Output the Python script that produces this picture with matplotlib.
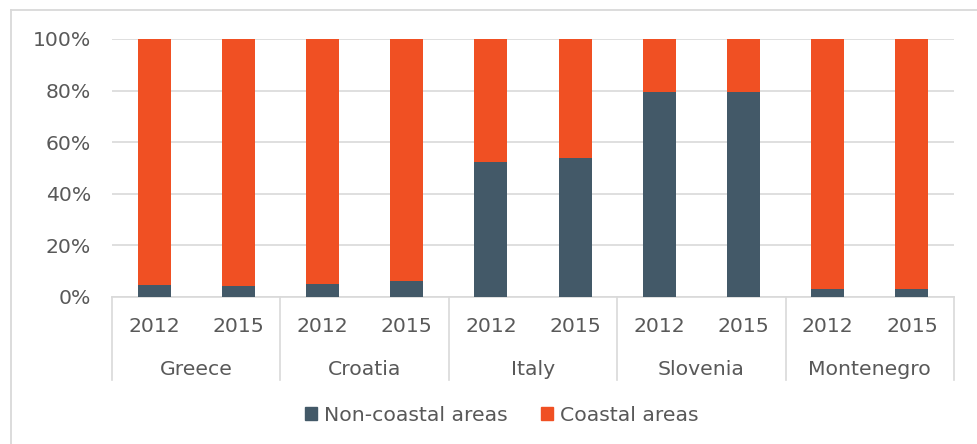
import matplotlib.pyplot as plt
from matplotlib.patches import Patch
from matplotlib.lines import Line2D
from matplotlib.ticker import PercentFormatter

countries = ["Greece", "Croatia", "Italy", "Slovenia", "Montenegro"]
years = ["2012", "2015"]
non_coastal = [4.5, 4.0, 4.8, 6.0, 52.3, 53.8, 79.3, 79.3, 3.1, 3.1]
coastal = [100 - v for v in non_coastal]

DARK = "#435968"
ORANGE = "#F05023"
GRID = "#d9d9d9"
TEXT = "#595959"

plt.rcParams["font.family"] = ["DejaVu Sans"]
plt.rcParams["font.size"] = 14.7

W, H = 978, 444
fig = plt.figure(figsize=(W / 100, H / 100), dpi=100)
ax = fig.add_axes([112 / W, 1 - 296.7 / H, (954 - 112) / W, (296.7 - 39) / H])

x = list(range(len(non_coastal)))
ax.bar(x, non_coastal, width=0.39, color=DARK, zorder=3)
ax.bar(x, coastal, width=0.39, bottom=non_coastal, color=ORANGE, zorder=3)

ax.set_xlim(-0.5, len(x) - 0.5)
ax.set_ylim(0, 100)
ax.set_yticks(range(0, 101, 20))
ax.yaxis.set_major_formatter(PercentFormatter(decimals=0))
ax.tick_params(axis="y", length=0, pad=15, colors=TEXT)
ax.set_xticks([])
ax.yaxis.grid(True, color=GRID, linewidth=1.2, zorder=0)
for side in ["left", "right", "top"]:
    ax.spines[side].set_visible(False)
ax.spines["bottom"].set_color(GRID)
ax.spines["bottom"].set_linewidth(1.2)

# two-level category axis: years, then countries, with separators
trans = ax.get_xaxis_transform()
for i in x:
    ax.text(i, -0.137, years[i % 2], transform=trans, ha="center", va="baseline",
            color=TEXT)
for g, name in enumerate(countries):
    ax.text(2 * g + 0.5, -0.304, name, transform=trans, ha="center", va="baseline",
            color=TEXT)
for b in range(len(countries) + 1):
    ax.plot([2 * b - 0.5, 2 * b - 0.5], [0, -0.323], transform=trans, color=GRID,
            linewidth=1.2, clip_on=False)

handles = [Patch(color=DARK, label="Non-coastal areas"),
           Patch(color=ORANGE, label="Coastal areas")]
fig.legend(handles=handles, loc="center", bbox_to_anchor=(0.513, 1 - 415 / H), ncol=2,
           frameon=False, handlelength=0.6, handleheight=0.6, handletextpad=0.35,
           columnspacing=1.6, labelcolor=TEXT)

# chart frame, only left and top edges show
fig.add_artist(Line2D([11 / W, 11 / W], [0, 1 - 10 / H], transform=fig.transFigure,
                      color=GRID, linewidth=1.3))
fig.add_artist(Line2D([11 / W, 1], [1 - 10 / H, 1 - 10 / H], transform=fig.transFigure,
                      color=GRID, linewidth=1.3))

fig.savefig("out.png", dpi=100)
